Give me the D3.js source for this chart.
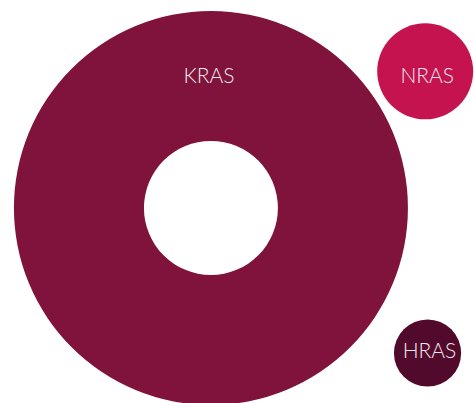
<!DOCTYPE html>
<html>
<head>
<meta charset="utf-8">
<script src="https://cdn.jsdelivr.net/npm/d3@7"></script>
<style>
  html, body { margin: 0; padding: 0; background: #ffffff; }
  svg { display: block; }
</style>
</head>
<body>
<svg id="chart" width="474" height="403"></svg>
<script>
// RAS isoform share (%), sized by area
const genes = ["KRAS", "NRAS", "HRAS"];
const shares = [86, 5.1, 2.5];
const colors = ["#7f133b", "#c4134f", "#520a2c"];

const width = 474, height = 403;
const svg = d3.select("#chart");

// area-true radius scale
const r = d3.scaleSqrt().domain([0, d3.max(shares)]).range([0, 197]);

// circle centres, as fractions of the canvas
const centres = [[0.445, 0.516], [0.897, 0.177], [0.902, 0.876]];

const nodes = genes.map((g, i) => ({
  gene: g,
  value: shares[i],
  color: colors[i],
  x: centres[i][0] * width,
  y: centres[i][1] * height,
  r: r(shares[i])
}));

const arc = d3.arc().startAngle(0).endAngle(2 * Math.PI);

const g = svg.selectAll("g.node")
  .data(nodes)
  .join("g")
  .attr("class", "node")
  .attr("transform", d => `translate(${d.x},${d.y})`);

// largest group is drawn as a ring, others as solid discs
g.append("path")
  .attr("fill", d => d.color)
  .attr("d", (d, i) => arc({
    innerRadius: i === 0 ? d.r * 0.34 : 0,
    outerRadius: d.r
  }));

g.append("text")
  .text(d => d.gene)
  .attr("text-anchor", "middle")
  .attr("x", (d, i) => i === 0 ? -2 : 2)
  .attr("y", (d, i) => i === 0 ? -d.r * 0.635 : (i === 1 ? 11.5 : 5))
  .attr("fill", "#f3e6ec")
  .style("font-family", "Lato, 'Open Sans', sans-serif")
  .style("font-weight", 300)
  .style("font-size", "21px");
</script>
</body>
</html>
